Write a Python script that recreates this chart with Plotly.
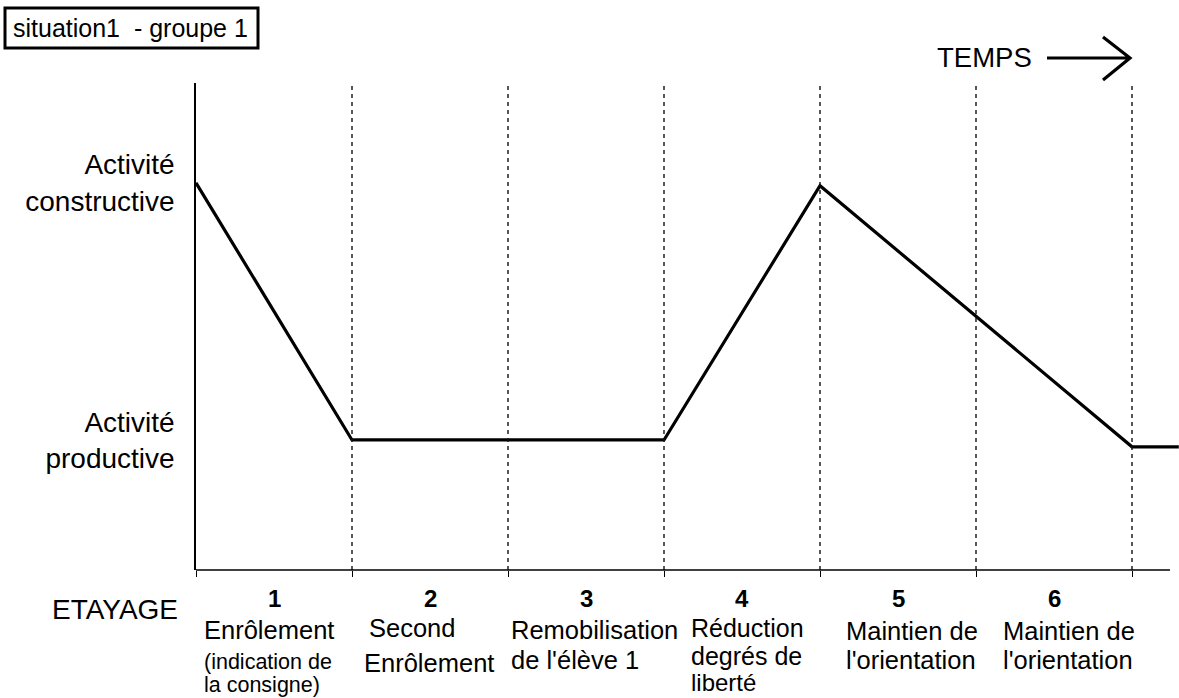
import plotly.graph_objects as go

# ---- data ----
phase_bounds = [0, 1, 2, 3, 4, 5, 6]
phase_numbers = ["1", "2", "3", "4", "5", "6"]
line_x = [0, 1, 3, 4, 6, 6.3]
line_y = [7.95, 2.67, 2.67, 7.89, 2.53, 2.53]
level_values = [7.95, 2.67]
level_labels = ["Activité<br>constructive", "Activité<br>productive"]
phase_label_lines = [
    [("Enrôlement", 25.5), ("(indication de", 21.5), ("la consigne)", 21.5)],
    [("Second", 25.5), ("Enrôlement", 25.5)],
    [("Remobilisation", 25.5), ("de l'élève 1", 25.5)],
    [("Réduction", 25), ("degrés de", 25), ("liberté", 24)],
    [("Maintien de", 25.5), ("l'orientation", 25.5)],
    [("Maintien de", 25.5), ("l'orientation", 25.5)],
]
title_text = "situation1  - groupe 1"
time_text = "TEMPS"
axis_text = "ETAYAGE"

# ---- layout geometry (pixels) ----
W, H = 1179, 698
L, T, B = 196, 83, 128
PW = W - L
PH = H - T - B
PX_PER_PHASE = 156
XMAX = PW / PX_PER_PHASE

FONT = "Liberation Sans, Arial, sans-serif"


def px(x):
    return (x - L) / PW


def py(y):
    return (H - B - y) / PH


# label placements per line: (left px, baseline px)
label_pos = [
    [(203, 637), (203, 668), (203, 691)],
    [(368, 635), (363, 670)],
    [(510, 637), (510, 667)],
    [(690, 635), (690, 663), (690, 689)],
    [(845, 638), (845, 667)],
    [(1002, 638), (1002, 667)],
]

fig = go.Figure()
fig.add_trace(go.Scatter(x=line_x, y=line_y, mode="lines",
                         line=dict(color="black", width=3.2),
                         hoverinfo="skip", showlegend=False))

shapes = []
# dashed phase boundaries
for b in phase_bounds[1:]:
    shapes.append(dict(type="line", xref="x", yref="paper", x0=b, x1=b,
                       y0=0, y1=py(85),
                       line=dict(color="#111111", width=1.4, dash="4px,4px")))
# x axis line
shapes.append(dict(type="line", xref="x", yref="paper", x0=0, x1=(1170 - L) / PX_PER_PHASE,
                   y0=0, y1=0, line=dict(color="black", width=1.6)))
# title box
shapes.append(dict(type="rect", xref="paper", yref="paper",
                   x0=px(5), x1=px(258), y0=py(8), y1=py(48),
                   line=dict(color="black", width=3), fillcolor="white"))
# time arrow
shapes.append(dict(type="path", xref="paper", yref="paper",
                   path=f"M {px(1047)},{py(58)} L {px(1130)},{py(58)} "
                        f"M {px(1103)},{py(37)} L {px(1130)},{py(58)} L {px(1103)},{py(80)}",
                   line=dict(color="black", width=3.2)))

ann = []
ann.append(dict(text=title_text, xref="paper", yref="paper", x=px(11), y=py(35 - 0.27 * 25),
                xanchor="left", yanchor="middle", showarrow=False,
                font=dict(family=FONT, size=25, color="black")))
ann.append(dict(text=time_text, xref="paper", yref="paper", x=px(935), y=py(65 - 0.27 * 27.5),
                xanchor="left", yanchor="middle", showarrow=False,
                font=dict(family=FONT, size=27.5, color="black")))
ann.append(dict(text=axis_text, xref="paper", yref="paper", x=px(50), y=py(617 - 0.27 * 28),
                xanchor="left", yanchor="middle", showarrow=False,
                font=dict(family=FONT, size=28, color="black")))
for i, num in enumerate(phase_numbers):
    ann.append(dict(text=f"<b>{num}</b>", xref="x", yref="paper",
                    x=(phase_bounds[i] + phase_bounds[i + 1]) / 2, y=py(605 - 0.27 * 24),
                    xanchor="center", yanchor="middle", showarrow=False,
                    font=dict(family=FONT, size=24, color="black")))
for lines, poss in zip(phase_label_lines, label_pos):
    for (txt, size), (xl, base) in zip(lines, poss):
        ann.append(dict(text=txt, xref="paper", yref="paper", x=px(xl - 1),
                        y=py(base - 0.27 * size), xanchor="left", yanchor="middle",
                        showarrow=False, font=dict(family=FONT, size=size, color="black")))

fig.update_layout(
    width=W, height=H,
    margin=dict(l=L, r=0, t=T, b=B, pad=0),
    paper_bgcolor="white", plot_bgcolor="white",
    shapes=shapes, annotations=ann,
    xaxis=dict(range=[0, XMAX], showgrid=False, zeroline=False, showline=False,
               tickvals=phase_bounds, ticks="outside", ticklen=6, tickwidth=1.2,
               tickcolor="black", showticklabels=False, fixedrange=True),
    yaxis=dict(range=[0, 10], showgrid=False, zeroline=False, showline=True,
               linecolor="black", linewidth=1.5, tickvals=level_values,
               ticktext=level_labels, ticks="", ticklabelstandoff=14,
               tickfont=dict(family=FONT, size=28, color="black"), fixedrange=True),
    showlegend=False,
)

fig.write_html("out.html", config={"displayModeBar": False},
               post_script="document.body.style.margin='0';")
